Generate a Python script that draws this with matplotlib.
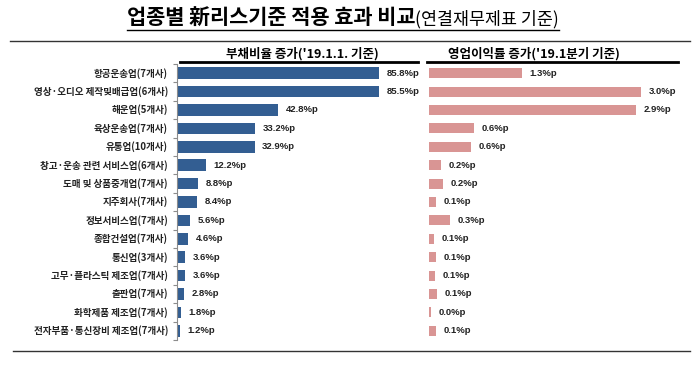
import matplotlib
matplotlib.use("Agg")
import matplotlib.pyplot as plt
import numpy as np

plt.rcParams['font.family'] = ['Noto Sans CJK KR', 'DejaVu Sans']

industries = [
    "항공운송업(7개사)", "영상·오디오 제작및배급업(6개사)", "해운업(5개사)",
    "육상운송업(7개사)", "유통업(10개사)", "창고·운송 관련 서비스업(6개사)",
    "도매 및 상품중개업(7개사)", "지주회사(7개사)", "정보서비스업(7개사)",
    "종합건설업(7개사)", "통신업(3개사)", "고무·플라스틱 제조업(7개사)",
    "출판업(7개사)", "화학제품 제조업(7개사)", "전자부품·통신장비 제조업(7개사)",
]
debt_ratio = [85.8, 85.5, 42.8, 33.2, 32.9, 12.2, 8.8, 8.4, 5.6, 4.6, 3.6, 3.6, 2.8, 1.8, 1.2]
# bar lengths, labels are the rounded published figures
op_margin = [1.31, 3.0, 2.93, 0.64, 0.59, 0.17, 0.2, 0.1, 0.3, 0.07, 0.1, 0.08, 0.11, 0.03, 0.1]
op_labels = ["1.3", "3.0", "2.9", "0.6", "0.6", "0.2", "0.2", "0.1", "0.3", "0.1", "0.1", "0.1", "0.1", "0.0", "0.1"]

W, H = 700, 365
fig = plt.figure(figsize=(7, 3.65), dpi=100)

def box(x0, x1, y0, y1):
    # pixel coords (top-left origin) -> figure fraction
    return [x0 / W, 1 - y1 / H, (x1 - x0) / W, (y1 - y0) / H]

def hline(x0, x1, yp, **kw):
    fig.add_artist(plt.Line2D([x0 / W, x1 / W], [1 - yp / H] * 2, **kw))

y = np.arange(len(industries))
ax1 = fig.add_axes(box(177, 413, 64, 340))
ax2 = fig.add_axes(box(429, 670, 64, 340))

ax1.barh(y, debt_ratio, height=0.62, color="#335E92")
ax1.set_xlim(0, 100)
for yi, v in zip(y, debt_ratio):
    ax1.text(v + 3.2, yi, f"{v:.1f}%p", va="center", ha="left", fontsize=6.8,
             fontweight="bold", family=["Liberation Sans"], color="#222222")

ax2.barh(y, op_margin, height=0.55, color="#D99594")
ax2.set_xlim(0, 3.41)
for yi, v, lab in zip(y, op_margin, op_labels):
    ax2.text(v + 0.11, yi, f"{lab}%p", va="center", ha="left", fontsize=6.8,
             fontweight="bold", family=["Liberation Sans"], color="#222222")

for ax in (ax1, ax2):
    ax.set_ylim(len(industries) - 0.5, -0.5)
    for s in ("top", "right", "bottom"):
        ax.spines[s].set_visible(False)
    ax.set_xticks([])
    ax.set_yticks([])

ax2.spines["left"].set_visible(False)
ax1.spines["left"].set_color("#8C8C8C")
ax1.spines["left"].set_linewidth(0.8)
ax1.set_yticks(np.arange(-0.5, len(industries)), minor=True)
ax1.tick_params(axis="y", which="minor", length=3, color="#8C8C8C", width=0.8)

for yi, name in zip(y, industries):
    ax1.text(-0.038, yi, name, transform=ax1.get_yaxis_transform(), ha="right",
             va="center", fontsize=6.9, fontweight="bold", color="#222222")

# panel headers with thick underline
fig.text(302 / W, 1 - 54 / H, "부채비율 증가('19.1.1. 기준)", ha="center", va="center",
         fontsize=9, fontweight="bold")
fig.text(534 / W, 1 - 54 / H, "영업이익률 증가('19.1분기 기준)", ha="center", va="center",
         fontsize=9, fontweight="bold")
hline(180, 418, 61.5, color="black", lw=2)
hline(427, 678, 61.5, color="black", lw=2)

# frame lines
hline(10, 690, 41, color="#333333", lw=1)
hline(13, 690, 351, color="#333333", lw=1)

# title: bold underlined part + normal part
t1 = fig.text(127 / W, 1 - 18 / H, "업종별 新리스기준 적용 효과 비교", ha="left", va="center",
              fontsize=15, fontweight="bold")
fig.canvas.draw()
r = fig.canvas.get_renderer()
bb1 = t1.get_window_extent(r).transformed(fig.transFigure.inverted())
t2 = fig.text(bb1.x1, 1 - 19 / H, "(연결재무제표 기준)", ha="left", va="center",
              fontsize=12.5)
fig.canvas.draw()
bb2 = t2.get_window_extent(r).transformed(fig.transFigure.inverted())
fig.add_artist(plt.Line2D([bb1.x0, bb2.x1], [1 - 29.5 / H] * 2, color="black", lw=1))

fig.savefig("out.png", dpi=100)
